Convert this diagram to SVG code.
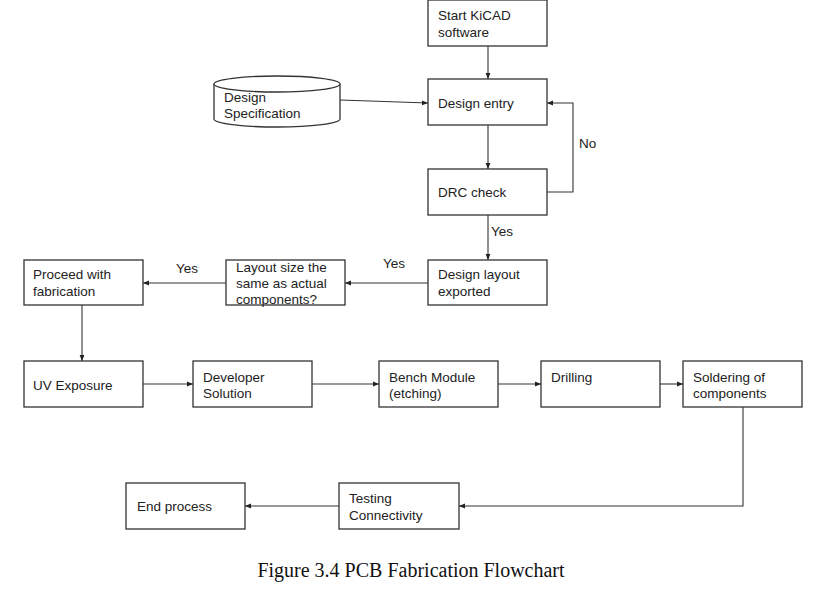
<svg xmlns="http://www.w3.org/2000/svg" width="813" height="598" viewBox="0 0 813 598">
<defs>
<marker id="ah" viewBox="0 0 10 10" refX="10" refY="5" markerWidth="6" markerHeight="6" orient="auto" markerUnits="userSpaceOnUse">
<path d="M0,1 L10,5 L0,9 z" fill="#222"/>
</marker>
<style>
.box{fill:#fff;stroke:#333;stroke-width:1.3}
.t{font-family:"Liberation Sans",Arial,sans-serif;font-size:13.5px;fill:#222}
.c{fill:none;stroke:#333;stroke-width:1.1;marker-end:url(#ah)}
.cap{font-family:"Liberation Serif","Times New Roman",serif;font-size:20px;fill:#111}
</style>
</defs>
<rect width="813" height="598" fill="#fff"/>
<g id="connectors">
<path class="c" d="M488,46 V79"/>
<path class="c" d="M340,100 L428,103"/>
<path class="c" d="M488,125 V169"/>
<path class="c" d="M547,192 H573 V103 H547"/>
<path class="c" d="M488,215 V260"/>
<path class="c" d="M428,283 H345"/>
<path class="c" d="M226,283 H143"/>
<path class="c" d="M82,305 V361"/>
<path class="c" d="M143,384 H193"/>
<path class="c" d="M312,384 H379"/>
<path class="c" d="M498,384 H541"/>
<path class="c" d="M660,384 H683"/>
<path class="c" d="M743,407 V506 H459"/>
<path class="c" d="M339,506 H245"/>
<text class="t" x="579" y="148">No</text>
<text class="t" x="491" y="236">Yes</text>
<text class="t" x="383" y="268">Yes</text>
<text class="t" x="176" y="273">Yes</text>
</g>
<g id="start"><rect class="box" x="428" y="0" width="119" height="46"/><text class="t" x="438" y="20">Start KiCAD</text><text class="t" x="438" y="37">software</text></g>
<g id="spec">
<path class="box" d="M214,84 V119 A63,8 0 0 0 340,119 V84"/>
<ellipse class="box" cx="277" cy="84" rx="63" ry="8"/>
<text class="t" x="224" y="102">Design</text><text class="t" x="224" y="118">Specification</text>
</g>
<g id="entry"><rect class="box" x="428" y="79" width="119" height="46"/><text class="t" x="438" y="108">Design entry</text></g>
<g id="drc"><rect class="box" x="428" y="169" width="119" height="46"/><text class="t" x="438" y="197">DRC check</text></g>
<g id="layout"><rect class="box" x="428" y="260" width="119" height="45"/><text class="t" x="438" y="279">Design layout</text><text class="t" x="438" y="296">exported</text></g>
<g id="sizecheck"><rect class="box" x="226" y="260" width="119" height="45"/><text class="t" x="236" y="272">Layout size the</text><text class="t" x="236" y="288">same as actual</text><text class="t" x="236" y="304">components?</text></g>
<g id="proceed"><rect class="box" x="24" y="260" width="119" height="45"/><text class="t" x="33" y="279">Proceed with</text><text class="t" x="33" y="296">fabrication</text></g>
<g id="uv"><rect class="box" x="24" y="361" width="119" height="46"/><text class="t" x="33" y="390">UV Exposure</text></g>
<g id="developer"><rect class="box" x="193" y="361" width="119" height="46"/><text class="t" x="203" y="382">Developer</text><text class="t" x="203" y="398">Solution</text></g>
<g id="bench"><rect class="box" x="379" y="361" width="119" height="46"/><text class="t" x="389" y="382">Bench Module</text><text class="t" x="389" y="398">(etching)</text></g>
<g id="drilling"><rect class="box" x="541" y="361" width="119" height="46"/><text class="t" x="551" y="382">Drilling</text></g>
<g id="soldering"><rect class="box" x="683" y="361" width="119" height="46"/><text class="t" x="693" y="382">Soldering of</text><text class="t" x="693" y="398">components</text></g>
<g id="testing"><rect class="box" x="339" y="483" width="120" height="46"/><text class="t" x="349" y="503">Testing</text><text class="t" x="349" y="520">Connectivity</text></g>
<g id="end"><rect class="box" x="126" y="483" width="119" height="46"/><text class="t" x="137" y="511">End process</text></g>
<text class="cap" x="411" y="577" text-anchor="middle">Figure 3.4 PCB Fabrication Flowchart</text>
</svg>
